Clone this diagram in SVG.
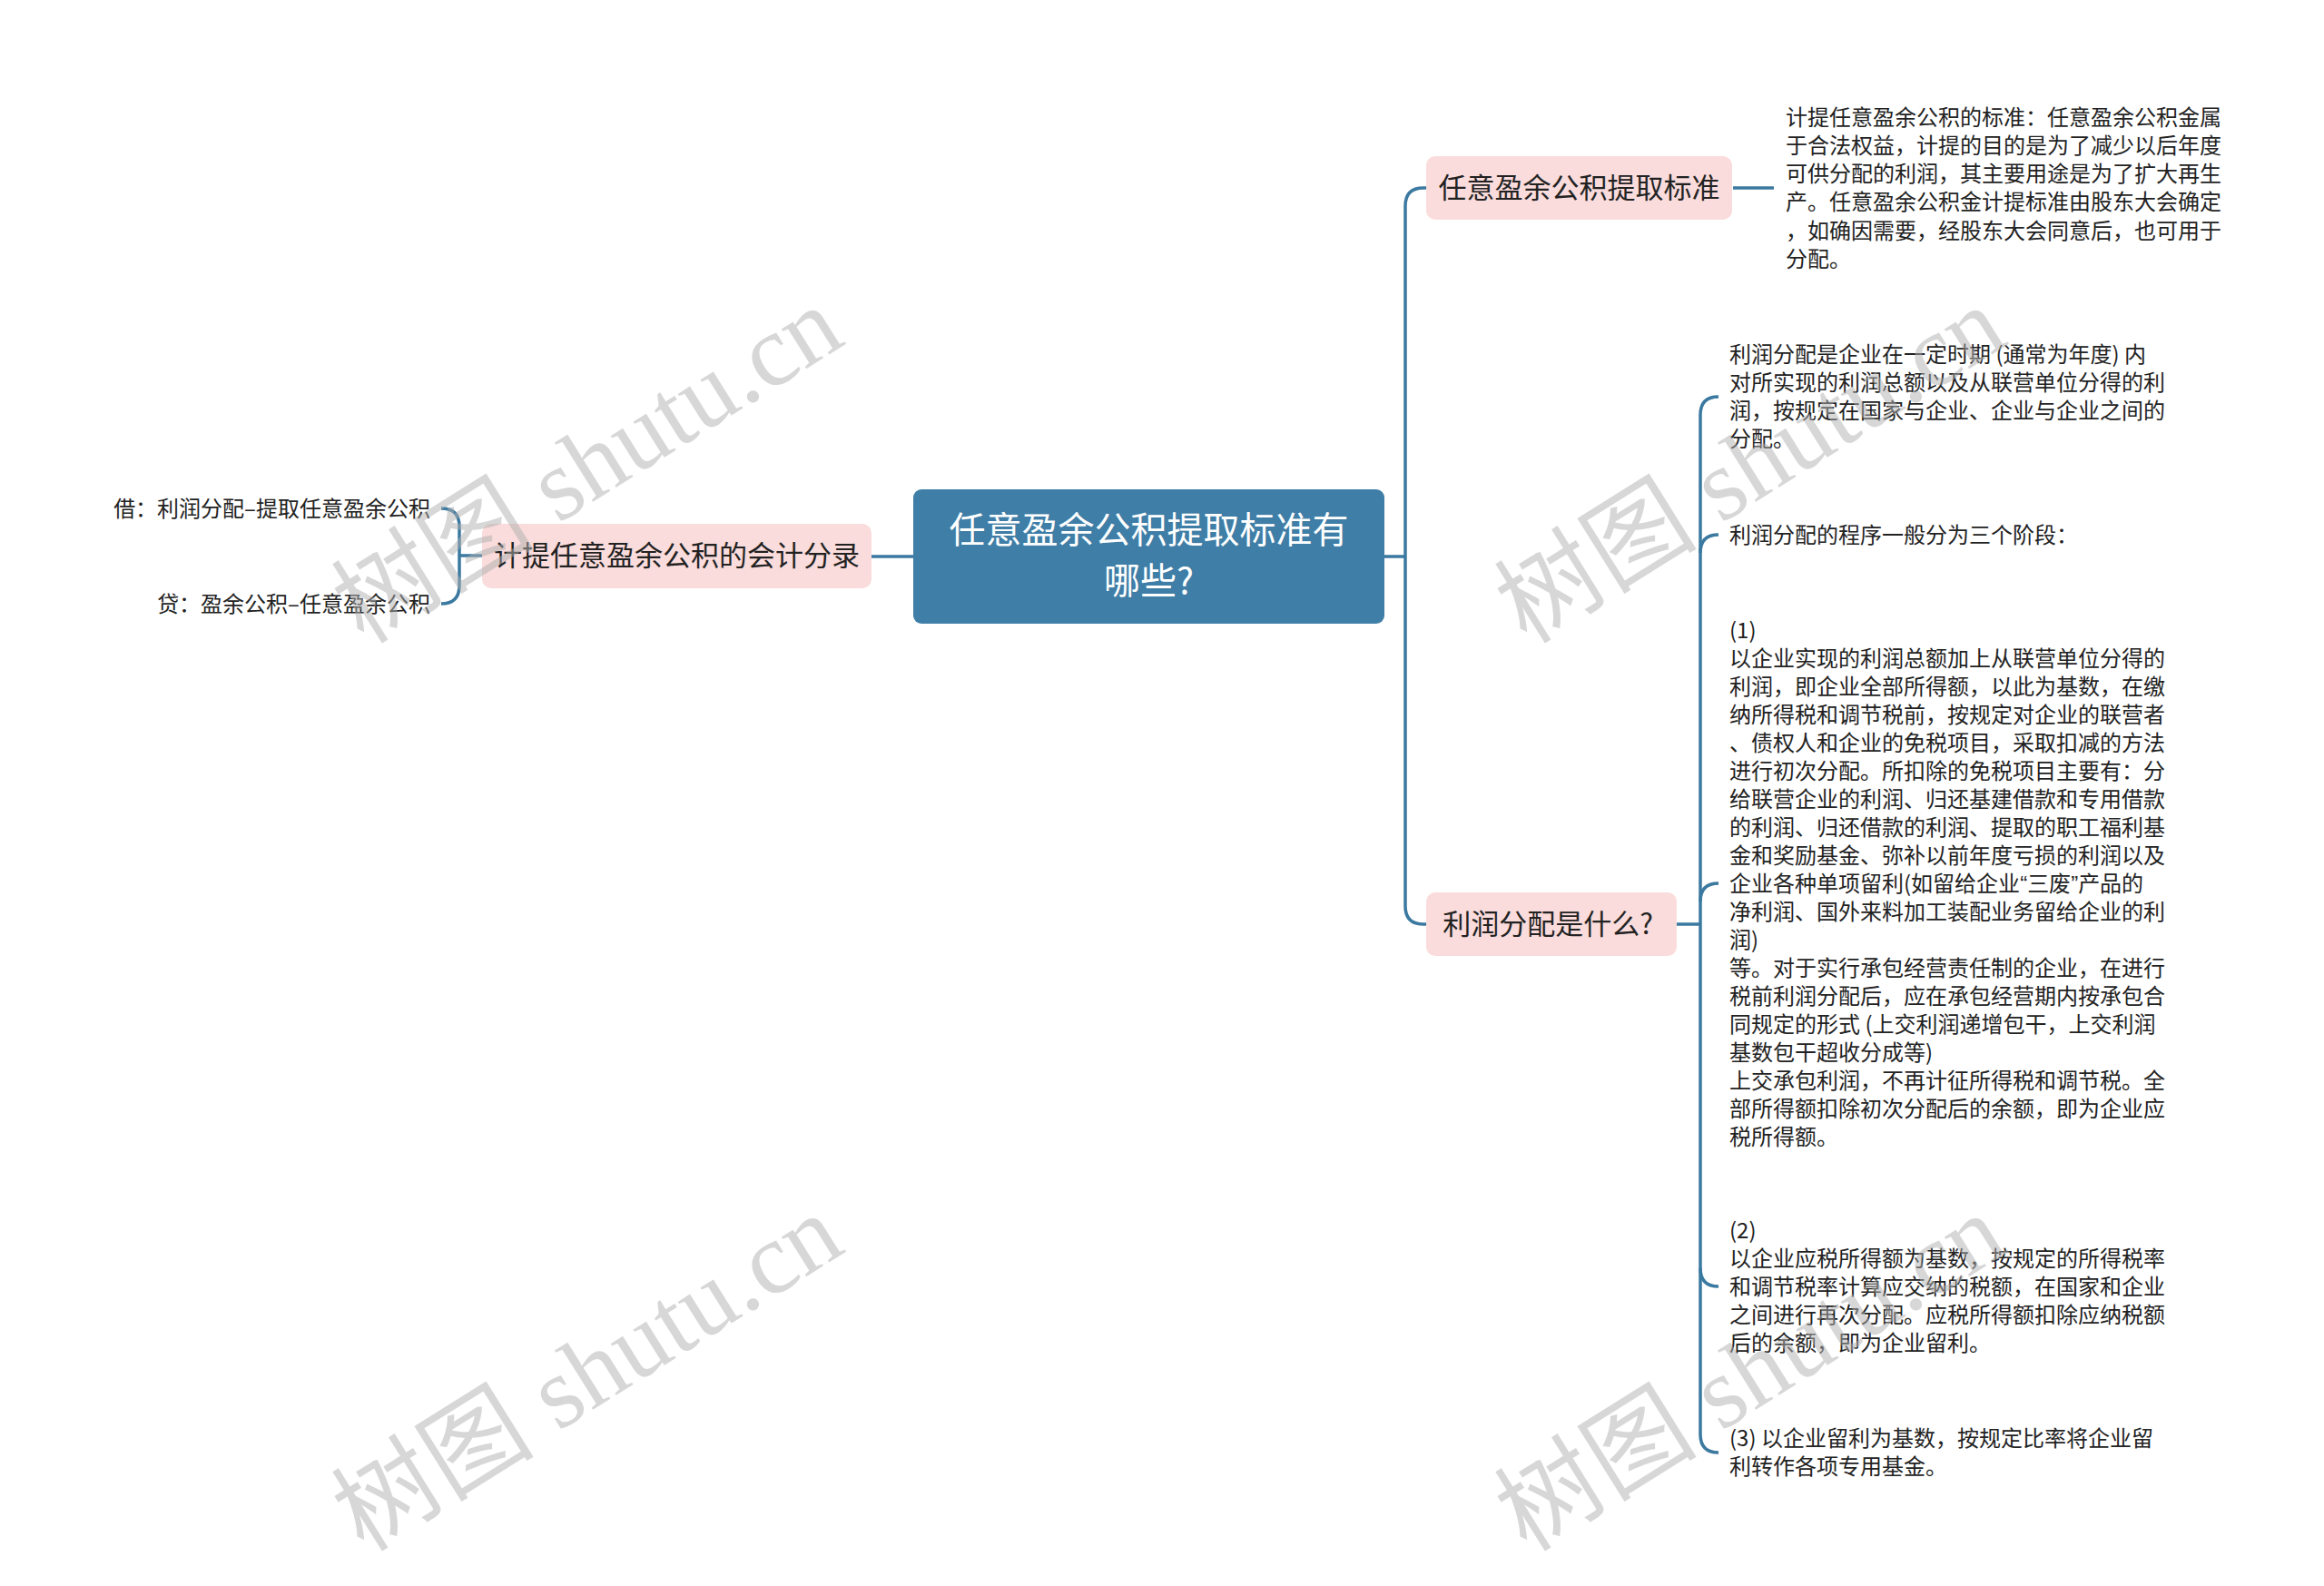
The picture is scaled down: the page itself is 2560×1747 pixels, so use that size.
<svg xmlns="http://www.w3.org/2000/svg" width="2560" height="1747" viewBox="0 0 2560 1747">
<style>
.bg{fill:#ffffff}
.root rect{fill:#3f7ea6}
.root text{fill:#ffffff;font-size:40px;text-anchor:middle}
.sub rect{fill:#fadcdc}
.sub text{fill:#222222;font-size:31px;text-anchor:middle}
text{font-family:"Noto Sans CJK SC","Noto Sans",sans-serif}
.leaf text{fill:#222222;font-size:24px}
.lat{font-family:"Liberation Sans",sans-serif}
.conn path{fill:none;stroke:#3b79a0;stroke-width:3.5}
.wm text{font-family:"Liberation Serif","Noto Sans CJK SC",serif;font-size:112px;fill:#b0b0b0;opacity:0.5}
</style>
<rect class="bg" x="0" y="0" width="2560" height="1747"/>
<g class="conn" id="connectors">
<path d="M1525 613 H1548"/>
<path d="M1548 613 V227 Q1548 207 1568 207 H1571"/>
<path d="M1548 613 V998 Q1548 1018 1568 1018 H1571"/>
<path d="M1909 207 H1954"/>
<path d="M1847 1018 H1873"/>
<path d="M1873 1018 V457 Q1873 437 1893 437"/>
<path d="M1873 609 Q1873 589 1893 589"/>
<path d="M1873 993 Q1873 973 1893 973"/>
<path d="M1873 1397 Q1873 1417 1893 1417"/>
<path d="M1873 1018 V1580 Q1873 1600 1893 1600"/>
<path d="M1006 613 H960"/>
<path d="M531 612 H506"/>
<path d="M506 612 V580 Q506 560 486 560"/>
<path d="M506 612 V645 Q506 665 486 665"/>
</g>
<g id="root" class="root">
<rect x="1006" y="539" width="519" height="148" rx="9"/>
<text x="1265.5" y="598">任意盈余公积提取标准有</text>
<text x="1265.5" y="654">哪些?</text>
</g>
<g id="node-standard" class="sub">
<rect x="1571" y="172" width="337" height="70" rx="10"/>
<text x="1739.5" y="218">任意盈余公积提取标准</text>
</g>
<g id="node-standard-text" class="leaf">
<text x="1967" y="138">计提任意盈余公积的标准：任意盈余公积金属</text>
<text x="1967" y="169">于合法权益，计提的目的是为了减少以后年度</text>
<text x="1967" y="200">可供分配的利润，其主要用途是为了扩大再生</text>
<text x="1967" y="231">产。任意盈余公积金计提标准由股东大会确定</text>
<text x="1967" y="263">，如确因需要，经股东大会同意后，也可用于</text>
<text x="1967" y="294">分配。</text>
</g>
<g id="node-what" class="sub">
<rect x="1571" y="983" width="276" height="70" rx="10"/>
<text x="1705" y="1029">利润分配是什么?</text>
</g>
<g id="node-what-a" class="leaf">
<text x="1905" y="399">利润分配是企业在一定时期 (通常为年度) 内</text>
<text x="1905" y="430">对所实现的利润总额以及从联营单位分得的利</text>
<text x="1905" y="461">润，按规定在国家与企业、企业与企业之间的</text>
<text x="1905" y="492">分配。</text>
</g>
<g id="node-what-b" class="leaf">
<text x="1905" y="598">利润分配的程序一般分为三个阶段：</text>
</g>
<g id="node-what-c" class="leaf">
<text x="1905" y="703">(1)</text>
<text x="1905" y="734">以企业实现的利润总额加上从联营单位分得的</text>
<text x="1905" y="765">利润，即企业全部所得额，以此为基数，在缴</text>
<text x="1905" y="796">纳所得税和调节税前，按规定对企业的联营者</text>
<text x="1905" y="827">、债权人和企业的免税项目，采取扣减的方法</text>
<text x="1905" y="858">进行初次分配。所扣除的免税项目主要有：分</text>
<text x="1905" y="889">给联营企业的利润、归还基建借款和专用借款</text>
<text x="1905" y="920">的利润、归还借款的利润、提取的职工福利基</text>
<text x="1905" y="951">金和奖励基金、弥补以前年度亏损的利润以及</text>
<text x="1905" y="982">企业各种单项留利(如留给企业<tspan class="lat">“</tspan>三废<tspan class="lat">”</tspan>产品的</text>
<text x="1905" y="1013">净利润、国外来料加工装配业务留给企业的利</text>
<text x="1905" y="1044">润)</text>
<text x="1905" y="1075">等。对于实行承包经营责任制的企业，在进行</text>
<text x="1905" y="1106">税前利润分配后，应在承包经营期内按承包合</text>
<text x="1905" y="1137">同规定的形式 (上交利润递增包干，上交利润</text>
<text x="1905" y="1168">基数包干超收分成等)</text>
<text x="1905" y="1199">上交承包利润，不再计征所得税和调节税。全</text>
<text x="1905" y="1230">部所得额扣除初次分配后的余额，即为企业应</text>
<text x="1905" y="1261">税所得额。</text>
</g>
<g id="node-what-d" class="leaf">
<text x="1905" y="1364">(2)</text>
<text x="1905" y="1395">以企业应税所得额为基数，按规定的所得税率</text>
<text x="1905" y="1426">和调节税率计算应交纳的税额，在国家和企业</text>
<text x="1905" y="1457">之间进行再次分配。应税所得额扣除应纳税额</text>
<text x="1905" y="1488">后的余额，即为企业留利。</text>
</g>
<g id="node-what-e" class="leaf">
<text x="1905" y="1593">(3) 以企业留利为基数，按规定比率将企业留</text>
<text x="1905" y="1624">利转作各项专用基金。</text>
</g>
<g id="node-entry" class="sub">
<rect x="531" y="577" width="429" height="71" rx="10"/>
<text x="745.5" y="623">计提任意盈余公积的会计分录</text>
</g>
<g id="node-debit" class="leaf">
<text x="474" y="569" text-anchor="end">借：利润分配–提取任意盈余公积</text>
</g>
<g id="node-credit" class="leaf">
<text x="474" y="674" text-anchor="end">贷：盈余公积–任意盈余公积</text>
</g>
<g class="wm">
<text transform="translate(647,512) rotate(-32)" text-anchor="middle" dominant-baseline="central">树图 shutu.cn</text>
<text transform="translate(1928,512) rotate(-32)" text-anchor="middle" dominant-baseline="central">树图 shutu.cn</text>
<text transform="translate(647,1512) rotate(-32)" text-anchor="middle" dominant-baseline="central">树图 shutu.cn</text>
<text transform="translate(1928,1512) rotate(-32)" text-anchor="middle" dominant-baseline="central">树图 shutu.cn</text>
</g>
</svg>
